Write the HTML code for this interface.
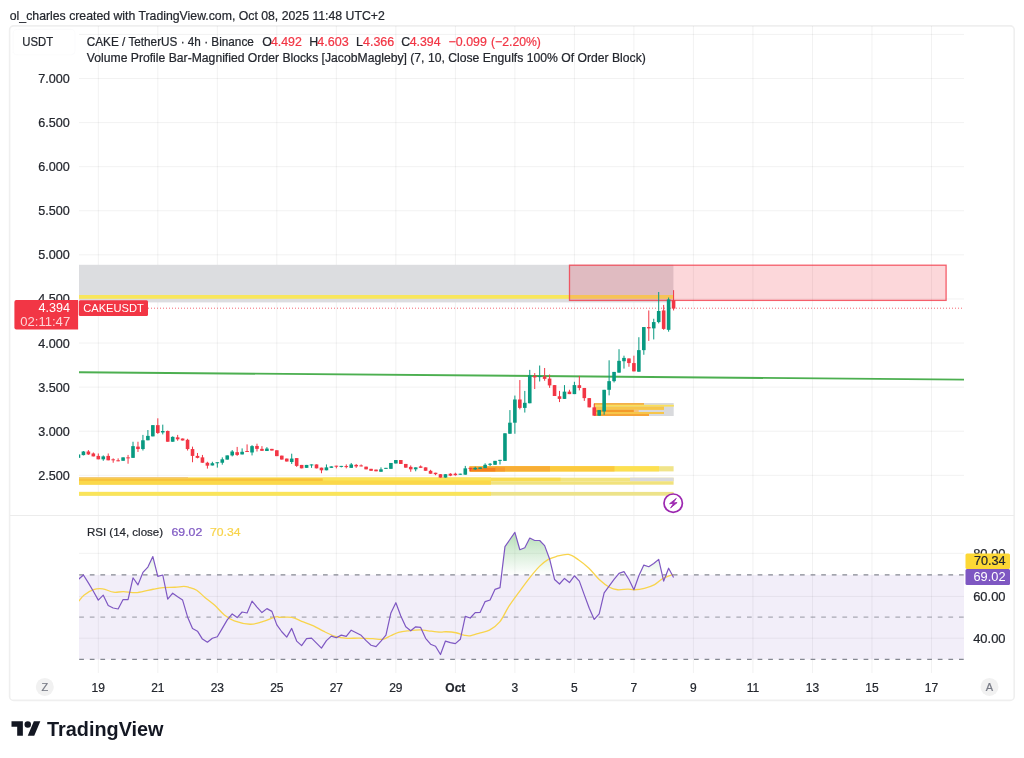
<!DOCTYPE html>
<html><head><meta charset="utf-8"><title>CAKE/USDT chart</title>
<style>html,body{margin:0;padding:0;background:#fff;width:1024px;height:758px;overflow:hidden}svg{display:block;font-family:"Liberation Sans",sans-serif;will-change:transform}</style>
</head><body>
<svg width="1024" height="758" viewBox="0 0 1024 758"><rect x="9.6" y="25.9" width="1004.6" height="674.5" rx="4" fill="#fff" stroke="#efefef" stroke-width="1.6"/>
<rect x="97.80" y="26" width="1" height="647" fill="#000" fill-opacity="0.055"/>
<rect x="157.31" y="26" width="1" height="647" fill="#000" fill-opacity="0.055"/>
<rect x="216.82" y="26" width="1" height="647" fill="#000" fill-opacity="0.055"/>
<rect x="276.34" y="26" width="1" height="647" fill="#000" fill-opacity="0.055"/>
<rect x="335.85" y="26" width="1" height="647" fill="#000" fill-opacity="0.055"/>
<rect x="395.36" y="26" width="1" height="647" fill="#000" fill-opacity="0.055"/>
<rect x="454.87" y="26" width="1" height="647" fill="#000" fill-opacity="0.055"/>
<rect x="514.38" y="26" width="1" height="647" fill="#000" fill-opacity="0.055"/>
<rect x="573.90" y="26" width="1" height="647" fill="#000" fill-opacity="0.055"/>
<rect x="633.41" y="26" width="1" height="647" fill="#000" fill-opacity="0.055"/>
<rect x="692.92" y="26" width="1" height="647" fill="#000" fill-opacity="0.055"/>
<rect x="752.43" y="26" width="1" height="647" fill="#000" fill-opacity="0.055"/>
<rect x="811.94" y="26" width="1" height="647" fill="#000" fill-opacity="0.055"/>
<rect x="871.46" y="26" width="1" height="647" fill="#000" fill-opacity="0.055"/>
<rect x="930.97" y="26" width="1" height="647" fill="#000" fill-opacity="0.055"/>
<rect x="79" y="33.90" width="885" height="1" fill="#000" fill-opacity="0.055"/>
<rect x="79" y="77.99" width="885" height="1" fill="#000" fill-opacity="0.055"/>
<rect x="79" y="122.08" width="885" height="1" fill="#000" fill-opacity="0.055"/>
<rect x="79" y="166.17" width="885" height="1" fill="#000" fill-opacity="0.055"/>
<rect x="79" y="210.26" width="885" height="1" fill="#000" fill-opacity="0.055"/>
<rect x="79" y="254.35" width="885" height="1" fill="#000" fill-opacity="0.055"/>
<rect x="79" y="298.44" width="885" height="1" fill="#000" fill-opacity="0.055"/>
<rect x="79" y="342.53" width="885" height="1" fill="#000" fill-opacity="0.055"/>
<rect x="79" y="386.62" width="885" height="1" fill="#000" fill-opacity="0.055"/>
<rect x="79" y="430.71" width="885" height="1" fill="#000" fill-opacity="0.055"/>
<rect x="79" y="474.80" width="885" height="1" fill="#000" fill-opacity="0.055"/>
<rect x="10" y="515" width="1004" height="1" fill="#ececec"/>
<rect x="79" y="574.9" width="885" height="84.5" fill="#7e57c2" fill-opacity="0.1"/>
<rect x="79" y="552.8" width="885" height="1" fill="#000" fill-opacity="0.055"/>
<rect x="79" y="595.9" width="885" height="1" fill="#000" fill-opacity="0.055"/>
<rect x="79" y="637.7" width="885" height="1" fill="#000" fill-opacity="0.055"/>
<line x1="79.2" y1="574.9" x2="964" y2="574.9" stroke="#787b86" stroke-opacity="0.9" stroke-width="1.2" stroke-dasharray="4.7 5.9"/>
<line x1="79.2" y1="617.1" x2="964" y2="617.1" stroke="#787b86" stroke-opacity="0.6" stroke-width="1.2" stroke-dasharray="4.7 5.9"/>
<line x1="79.2" y1="659.4" x2="964" y2="659.4" stroke="#787b86" stroke-opacity="0.9" stroke-width="1.2" stroke-dasharray="4.7 5.9"/>
<rect x="79" y="264.8" width="594.4" height="37.6" fill="#dcdde0"/>
<rect x="79" y="295" width="594.4" height="3.8" fill="#f8e65c"/>
<rect x="569.5" y="265.2" width="376.6" height="35.2" fill="#f23645" fill-opacity="0.2" stroke="#f23645" stroke-opacity="0.78" stroke-width="1.3"/>
<rect x="79" y="477.7" width="594.6" height="3.6" fill="#f2e480"/>
<rect x="79" y="477.7" width="481.5" height="3.6" fill="#f9dc52"/>
<rect x="630" y="477.7" width="43.6" height="3.6" fill="#d9d9dc"/>
<rect x="79" y="481.3" width="594.6" height="3.4" fill="#f1e27c"/>
<rect x="79" y="477.7" width="412" height="7" fill="#fbd84a"/>
<rect x="322.7" y="477.7" width="168.3" height="2.8" fill="#fae35a"/>
<rect x="79" y="478.6" width="243.7" height="2.3" fill="#f8c23e"/>
<rect x="79" y="477.1" width="109" height="1.2" fill="#f2c878"/>
<rect x="79" y="491.9" width="594.6" height="3.8" fill="#ede38a"/>
<rect x="79" y="491.9" width="412" height="3.8" fill="#fae45a"/>
<rect x="469.7" y="466.2" width="203.9" height="5.2" fill="#f0e48a"/>
<rect x="469.7" y="466.2" width="189.3" height="5.2" fill="#fde050"/>
<rect x="469.7" y="466.2" width="144.8" height="5.2" fill="#fcc93e"/>
<rect x="469.7" y="466.2" width="80.3" height="5.2" fill="#f8ad36"/>
<rect x="469.7" y="467.4" width="35.3" height="4" fill="#f79a2e"/>
<rect x="469.7" y="467.4" width="25.6" height="4" fill="#f57f1f"/>
<rect x="469.7" y="466.2" width="25.6" height="1.3" fill="#f9b84a"/>
<rect x="594" y="403" width="79.7" height="13" fill="#d9dadd"/>
<rect x="594" y="403" width="50" height="2" fill="#f3b04a"/>
<rect x="594" y="404.8" width="79.9" height="1.8" fill="#f9e05a"/>
<rect x="594" y="406.6" width="70" height="3.3" fill="#f7c64a"/>
<rect x="594" y="409.8" width="44.7" height="2.2" fill="#f5c27a"/>
<rect x="594" y="409.8" width="39.8" height="2.2" fill="#f39a2a"/>
<rect x="594" y="412" width="70" height="2" fill="#f7c64a"/>
<rect x="594" y="414" width="55" height="2" fill="#f5a53a"/>
<line x1="79" y1="372.2" x2="964" y2="379.6" stroke="#4caf50" stroke-width="1.9"/>
<line x1="148" y1="308.2" x2="964" y2="308.2" stroke="#f23645" stroke-opacity="0.75" stroke-width="1" stroke-dasharray="1 2"/>
<clipPath id="cmain"><rect x="79" y="26" width="885" height="489"/></clipPath>
<g clip-path="url(#cmain)"><rect x="77.96" y="454.43" width="1" height="3.42" fill="#089981"/>
<rect x="76.66" y="454.43" width="3.6" height="3.42" fill="#089981"/>
<rect x="82.92" y="451.02" width="1" height="4.39" fill="#089981"/>
<rect x="81.62" y="451.50" width="3.6" height="3.61" fill="#089981"/>
<rect x="87.88" y="450.04" width="1" height="4.88" fill="#f23645"/>
<rect x="86.58" y="451.50" width="3.6" height="2.93" fill="#f23645"/>
<rect x="92.84" y="452.48" width="1" height="3.91" fill="#f23645"/>
<rect x="91.54" y="453.46" width="3.6" height="2.93" fill="#f23645"/>
<rect x="97.80" y="453.46" width="1" height="5.86" fill="#f23645"/>
<rect x="96.50" y="455.90" width="3.6" height="3.42" fill="#f23645"/>
<rect x="102.76" y="455.41" width="1" height="5.37" fill="#089981"/>
<rect x="101.46" y="456.39" width="3.6" height="2.93" fill="#089981"/>
<rect x="107.72" y="453.46" width="1" height="6.84" fill="#f23645"/>
<rect x="106.42" y="455.90" width="3.6" height="4.39" fill="#f23645"/>
<rect x="112.68" y="458.34" width="1" height="4.39" fill="#f23645"/>
<rect x="111.38" y="459.32" width="3.6" height="1.00" fill="#f23645"/>
<rect x="117.63" y="458.34" width="1" height="2.93" fill="#f23645"/>
<rect x="116.33" y="460.29" width="3.6" height="1.00" fill="#f23645"/>
<rect x="122.59" y="457.36" width="1" height="3.42" fill="#089981"/>
<rect x="121.29" y="457.36" width="3.6" height="3.42" fill="#089981"/>
<rect x="127.55" y="454.92" width="1" height="8.79" fill="#f23645"/>
<rect x="126.25" y="457.36" width="3.6" height="1.00" fill="#f23645"/>
<rect x="132.51" y="441.74" width="1" height="16.11" fill="#089981"/>
<rect x="131.21" y="446.13" width="3.6" height="11.72" fill="#089981"/>
<rect x="137.47" y="441.74" width="1" height="10.25" fill="#f23645"/>
<rect x="136.17" y="446.62" width="3.6" height="2.44" fill="#f23645"/>
<rect x="142.43" y="434.90" width="1" height="15.62" fill="#089981"/>
<rect x="141.13" y="440.27" width="3.6" height="8.79" fill="#089981"/>
<rect x="147.39" y="430.02" width="1" height="10.25" fill="#089981"/>
<rect x="146.09" y="435.88" width="3.6" height="4.39" fill="#089981"/>
<rect x="152.35" y="425.14" width="1" height="11.23" fill="#089981"/>
<rect x="151.05" y="425.14" width="3.6" height="11.23" fill="#089981"/>
<rect x="157.31" y="418.30" width="1" height="15.62" fill="#f23645"/>
<rect x="156.01" y="425.14" width="3.6" height="7.81" fill="#f23645"/>
<rect x="162.27" y="424.65" width="1" height="9.77" fill="#089981"/>
<rect x="160.97" y="431.00" width="3.6" height="1.46" fill="#089981"/>
<rect x="167.23" y="430.51" width="1" height="11.23" fill="#f23645"/>
<rect x="165.93" y="431.00" width="3.6" height="10.74" fill="#f23645"/>
<rect x="172.19" y="436.37" width="1" height="5.37" fill="#089981"/>
<rect x="170.89" y="436.86" width="3.6" height="4.88" fill="#089981"/>
<rect x="177.15" y="434.90" width="1" height="5.86" fill="#f23645"/>
<rect x="175.85" y="437.34" width="3.6" height="1.95" fill="#f23645"/>
<rect x="182.11" y="438.52" width="1" height="1.95" fill="#f23645"/>
<rect x="180.81" y="438.52" width="3.6" height="1.95" fill="#f23645"/>
<rect x="187.06" y="438.81" width="1" height="11.72" fill="#f23645"/>
<rect x="185.76" y="439.79" width="3.6" height="9.28" fill="#f23645"/>
<rect x="192.02" y="446.62" width="1" height="15.62" fill="#f23645"/>
<rect x="190.72" y="449.06" width="3.6" height="6.84" fill="#f23645"/>
<rect x="196.98" y="452.97" width="1" height="5.37" fill="#f23645"/>
<rect x="195.68" y="455.90" width="3.6" height="1.95" fill="#f23645"/>
<rect x="201.94" y="454.92" width="1" height="7.81" fill="#f23645"/>
<rect x="200.64" y="457.36" width="3.6" height="5.37" fill="#f23645"/>
<rect x="206.90" y="461.76" width="1" height="6.84" fill="#f23645"/>
<rect x="205.60" y="462.73" width="3.6" height="2.93" fill="#f23645"/>
<rect x="211.86" y="461.76" width="1" height="3.71" fill="#089981"/>
<rect x="210.56" y="463.22" width="3.6" height="2.25" fill="#089981"/>
<rect x="216.82" y="462.25" width="1" height="5.37" fill="#089981"/>
<rect x="215.52" y="462.25" width="3.6" height="1.00" fill="#089981"/>
<rect x="221.78" y="457.36" width="1" height="7.32" fill="#089981"/>
<rect x="220.48" y="459.32" width="3.6" height="3.42" fill="#089981"/>
<rect x="226.74" y="455.41" width="1" height="4.20" fill="#089981"/>
<rect x="225.44" y="455.41" width="3.6" height="4.20" fill="#089981"/>
<rect x="231.70" y="450.04" width="1" height="6.35" fill="#089981"/>
<rect x="230.40" y="451.50" width="3.6" height="3.91" fill="#089981"/>
<rect x="236.66" y="446.91" width="1" height="8.98" fill="#f23645"/>
<rect x="235.36" y="452.19" width="3.6" height="2.73" fill="#f23645"/>
<rect x="241.62" y="448.38" width="1" height="6.05" fill="#089981"/>
<rect x="240.32" y="451.80" width="3.6" height="2.64" fill="#089981"/>
<rect x="246.58" y="444.38" width="1" height="7.62" fill="#f23645"/>
<rect x="245.28" y="451.02" width="3.6" height="1.00" fill="#f23645"/>
<rect x="251.54" y="445.16" width="1" height="10.25" fill="#089981"/>
<rect x="250.24" y="446.13" width="3.6" height="6.35" fill="#089981"/>
<rect x="256.49" y="443.69" width="1" height="7.81" fill="#f23645"/>
<rect x="255.19" y="445.94" width="3.6" height="2.93" fill="#f23645"/>
<rect x="261.45" y="446.13" width="1" height="4.69" fill="#f23645"/>
<rect x="260.15" y="448.87" width="3.6" height="1.95" fill="#f23645"/>
<rect x="266.41" y="447.11" width="1" height="3.91" fill="#089981"/>
<rect x="265.11" y="448.57" width="3.6" height="2.44" fill="#089981"/>
<rect x="271.37" y="448.87" width="1" height="1.66" fill="#f23645"/>
<rect x="270.07" y="448.87" width="3.6" height="1.66" fill="#f23645"/>
<rect x="276.33" y="450.27" width="1" height="5.86" fill="#f23645"/>
<rect x="275.03" y="450.27" width="3.6" height="5.86" fill="#f23645"/>
<rect x="281.29" y="455.64" width="1" height="3.91" fill="#f23645"/>
<rect x="279.99" y="455.64" width="3.6" height="3.91" fill="#f23645"/>
<rect x="286.25" y="458.57" width="1" height="2.93" fill="#f23645"/>
<rect x="284.95" y="458.57" width="3.6" height="2.93" fill="#f23645"/>
<rect x="291.21" y="453.69" width="1" height="10.25" fill="#089981"/>
<rect x="289.91" y="458.57" width="3.6" height="3.42" fill="#089981"/>
<rect x="296.17" y="458.09" width="1" height="8.79" fill="#f23645"/>
<rect x="294.87" y="458.09" width="3.6" height="7.81" fill="#f23645"/>
<rect x="301.13" y="464.92" width="1" height="3.42" fill="#f23645"/>
<rect x="299.83" y="464.92" width="3.6" height="3.42" fill="#f23645"/>
<rect x="306.09" y="464.92" width="1" height="2.93" fill="#089981"/>
<rect x="304.79" y="464.92" width="3.6" height="2.93" fill="#089981"/>
<rect x="311.05" y="464.43" width="1" height="3.42" fill="#089981"/>
<rect x="309.75" y="464.43" width="3.6" height="1.00" fill="#089981"/>
<rect x="316.01" y="464.43" width="1" height="3.91" fill="#f23645"/>
<rect x="314.71" y="464.43" width="3.6" height="3.91" fill="#f23645"/>
<rect x="320.97" y="467.66" width="1" height="5.57" fill="#f23645"/>
<rect x="319.67" y="467.66" width="3.6" height="2.64" fill="#f23645"/>
<rect x="325.93" y="464.43" width="1" height="5.86" fill="#089981"/>
<rect x="324.62" y="467.36" width="3.6" height="2.93" fill="#089981"/>
<rect x="330.88" y="466.39" width="1" height="1.46" fill="#089981"/>
<rect x="329.58" y="466.39" width="3.6" height="1.46" fill="#089981"/>
<rect x="335.84" y="465.70" width="1" height="2.64" fill="#f23645"/>
<rect x="334.54" y="465.70" width="3.6" height="1.00" fill="#f23645"/>
<rect x="340.80" y="465.90" width="1" height="1.46" fill="#089981"/>
<rect x="339.50" y="465.90" width="3.6" height="1.00" fill="#089981"/>
<rect x="345.76" y="464.43" width="1" height="3.91" fill="#f23645"/>
<rect x="344.46" y="466.09" width="3.6" height="1.00" fill="#f23645"/>
<rect x="350.72" y="462.97" width="1" height="4.88" fill="#089981"/>
<rect x="349.42" y="464.43" width="3.6" height="3.42" fill="#089981"/>
<rect x="355.68" y="463.95" width="1" height="3.91" fill="#f23645"/>
<rect x="354.38" y="464.92" width="3.6" height="1.46" fill="#f23645"/>
<rect x="360.64" y="464.43" width="1" height="1.95" fill="#f23645"/>
<rect x="359.34" y="465.41" width="3.6" height="1.00" fill="#f23645"/>
<rect x="365.60" y="466.68" width="1" height="2.64" fill="#f23645"/>
<rect x="364.30" y="466.68" width="3.6" height="2.64" fill="#f23645"/>
<rect x="370.56" y="468.83" width="1" height="1.95" fill="#f23645"/>
<rect x="369.26" y="468.83" width="3.6" height="1.95" fill="#f23645"/>
<rect x="375.52" y="469.61" width="1" height="1.66" fill="#f23645"/>
<rect x="374.22" y="469.61" width="3.6" height="1.66" fill="#f23645"/>
<rect x="380.48" y="467.36" width="1" height="4.39" fill="#089981"/>
<rect x="379.18" y="469.32" width="3.6" height="2.44" fill="#089981"/>
<rect x="385.44" y="467.85" width="1" height="0.98" fill="#089981"/>
<rect x="384.14" y="467.85" width="3.6" height="1.00" fill="#089981"/>
<rect x="390.40" y="462.97" width="1" height="5.86" fill="#089981"/>
<rect x="389.10" y="462.97" width="3.6" height="5.86" fill="#089981"/>
<rect x="395.36" y="460.04" width="1" height="3.42" fill="#089981"/>
<rect x="394.06" y="460.04" width="3.6" height="3.42" fill="#089981"/>
<rect x="400.31" y="460.04" width="1" height="3.91" fill="#f23645"/>
<rect x="399.01" y="460.04" width="3.6" height="3.91" fill="#f23645"/>
<rect x="405.27" y="463.95" width="1" height="3.71" fill="#f23645"/>
<rect x="403.97" y="463.95" width="3.6" height="3.71" fill="#f23645"/>
<rect x="410.23" y="465.41" width="1" height="6.35" fill="#f23645"/>
<rect x="408.93" y="466.88" width="3.6" height="2.44" fill="#f23645"/>
<rect x="415.19" y="467.36" width="1" height="3.91" fill="#089981"/>
<rect x="413.89" y="467.36" width="3.6" height="1.95" fill="#089981"/>
<rect x="420.15" y="465.41" width="1" height="2.44" fill="#f23645"/>
<rect x="418.85" y="466.39" width="3.6" height="1.46" fill="#f23645"/>
<rect x="425.11" y="467.36" width="1" height="3.42" fill="#f23645"/>
<rect x="423.81" y="467.36" width="3.6" height="3.42" fill="#f23645"/>
<rect x="430.07" y="469.80" width="1" height="3.91" fill="#f23645"/>
<rect x="428.77" y="470.78" width="3.6" height="2.93" fill="#f23645"/>
<rect x="435.03" y="472.73" width="1" height="2.44" fill="#f23645"/>
<rect x="433.73" y="472.73" width="3.6" height="1.46" fill="#f23645"/>
<rect x="439.99" y="474.20" width="1" height="3.42" fill="#f23645"/>
<rect x="438.69" y="474.20" width="3.6" height="3.42" fill="#f23645"/>
<rect x="444.95" y="474.20" width="1" height="3.42" fill="#089981"/>
<rect x="443.65" y="474.20" width="3.6" height="3.42" fill="#089981"/>
<rect x="449.91" y="473.22" width="1" height="2.93" fill="#f23645"/>
<rect x="448.61" y="473.71" width="3.6" height="1.95" fill="#f23645"/>
<rect x="454.87" y="472.73" width="1" height="2.93" fill="#f23645"/>
<rect x="453.57" y="473.71" width="3.6" height="1.46" fill="#f23645"/>
<rect x="459.83" y="473.71" width="1" height="0.98" fill="#089981"/>
<rect x="458.53" y="473.71" width="3.6" height="1.00" fill="#089981"/>
<rect x="464.79" y="465.90" width="1" height="8.79" fill="#089981"/>
<rect x="463.49" y="468.34" width="3.6" height="6.35" fill="#089981"/>
<rect x="469.74" y="467.85" width="1" height="2.93" fill="#f23645"/>
<rect x="468.44" y="467.85" width="3.6" height="1.00" fill="#f23645"/>
<rect x="474.70" y="466.72" width="1" height="3.28" fill="#089981"/>
<rect x="473.40" y="467.89" width="3.6" height="1.41" fill="#089981"/>
<rect x="479.66" y="467.40" width="1" height="1.45" fill="#089981"/>
<rect x="478.36" y="467.40" width="3.6" height="1.45" fill="#089981"/>
<rect x="484.62" y="463.34" width="1" height="4.79" fill="#089981"/>
<rect x="483.32" y="464.79" width="3.6" height="3.34" fill="#089981"/>
<rect x="489.58" y="463.05" width="1" height="2.90" fill="#089981"/>
<rect x="488.28" y="463.77" width="3.6" height="1.02" fill="#089981"/>
<rect x="494.54" y="460.87" width="1" height="3.92" fill="#089981"/>
<rect x="493.24" y="460.87" width="3.6" height="3.92" fill="#089981"/>
<rect x="499.50" y="459.85" width="1" height="4.64" fill="#089981"/>
<rect x="498.20" y="459.85" width="3.6" height="1.02" fill="#089981"/>
<rect x="504.46" y="433.29" width="1" height="27.58" fill="#089981"/>
<rect x="503.16" y="433.29" width="3.6" height="27.58" fill="#089981"/>
<rect x="509.42" y="410.07" width="1" height="23.66" fill="#089981"/>
<rect x="508.12" y="422.70" width="3.6" height="11.03" fill="#089981"/>
<rect x="514.38" y="395.56" width="1" height="38.17" fill="#089981"/>
<rect x="513.08" y="399.48" width="3.6" height="23.22" fill="#089981"/>
<rect x="519.34" y="380.03" width="1" height="29.32" fill="#f23645"/>
<rect x="518.04" y="399.48" width="3.6" height="8.42" fill="#f23645"/>
<rect x="524.30" y="390.91" width="1" height="21.63" fill="#089981"/>
<rect x="523.00" y="402.82" width="3.6" height="5.08" fill="#089981"/>
<rect x="529.26" y="369.87" width="1" height="33.38" fill="#089981"/>
<rect x="527.96" y="375.24" width="3.6" height="28.01" fill="#089981"/>
<rect x="534.22" y="373.06" width="1" height="15.97" fill="#f23645"/>
<rect x="532.92" y="375.97" width="3.6" height="1.45" fill="#f23645"/>
<rect x="539.17" y="365.52" width="1" height="15.97" fill="#089981"/>
<rect x="537.87" y="375.97" width="3.6" height="1.16" fill="#089981"/>
<rect x="544.13" y="367.98" width="1" height="12.77" fill="#f23645"/>
<rect x="542.83" y="376.40" width="3.6" height="2.47" fill="#f23645"/>
<rect x="549.09" y="374.51" width="1" height="13.35" fill="#f23645"/>
<rect x="547.79" y="378.58" width="3.6" height="6.82" fill="#f23645"/>
<rect x="554.05" y="385.11" width="1" height="10.89" fill="#f23645"/>
<rect x="552.75" y="385.11" width="3.6" height="10.89" fill="#f23645"/>
<rect x="559.01" y="390.91" width="1" height="11.18" fill="#f23645"/>
<rect x="557.71" y="396.28" width="3.6" height="2.61" fill="#f23645"/>
<rect x="563.97" y="385.11" width="1" height="13.79" fill="#089981"/>
<rect x="562.67" y="391.64" width="3.6" height="7.26" fill="#089981"/>
<rect x="568.93" y="389.75" width="1" height="4.35" fill="#f23645"/>
<rect x="567.63" y="391.64" width="3.6" height="2.47" fill="#f23645"/>
<rect x="573.89" y="381.77" width="1" height="12.34" fill="#089981"/>
<rect x="572.59" y="385.11" width="3.6" height="9.00" fill="#089981"/>
<rect x="578.85" y="375.98" width="1" height="14.40" fill="#f23645"/>
<rect x="577.55" y="385.20" width="3.6" height="2.77" fill="#f23645"/>
<rect x="583.81" y="387.97" width="1" height="12.92" fill="#f23645"/>
<rect x="582.51" y="387.97" width="3.6" height="10.15" fill="#f23645"/>
<rect x="588.77" y="398.12" width="1" height="9.23" fill="#f23645"/>
<rect x="587.47" y="398.12" width="3.6" height="9.23" fill="#f23645"/>
<rect x="593.73" y="403.66" width="1" height="12.00" fill="#f23645"/>
<rect x="592.43" y="407.35" width="3.6" height="8.31" fill="#f23645"/>
<rect x="598.69" y="410.12" width="1" height="5.54" fill="#089981"/>
<rect x="597.39" y="410.12" width="3.6" height="5.54" fill="#089981"/>
<rect x="603.65" y="389.82" width="1" height="24.92" fill="#089981"/>
<rect x="602.35" y="389.82" width="3.6" height="21.59" fill="#089981"/>
<rect x="608.61" y="360.29" width="1" height="35.07" fill="#089981"/>
<rect x="607.31" y="381.14" width="3.6" height="8.67" fill="#089981"/>
<rect x="613.56" y="371.92" width="1" height="10.52" fill="#089981"/>
<rect x="612.26" y="371.92" width="3.6" height="9.23" fill="#089981"/>
<rect x="618.52" y="349.21" width="1" height="23.44" fill="#089981"/>
<rect x="617.22" y="360.84" width="3.6" height="11.81" fill="#089981"/>
<rect x="623.48" y="355.67" width="1" height="12.92" fill="#089981"/>
<rect x="622.18" y="357.89" width="3.6" height="3.32" fill="#089981"/>
<rect x="628.44" y="358.44" width="1" height="8.31" fill="#f23645"/>
<rect x="627.14" y="358.44" width="3.6" height="4.61" fill="#f23645"/>
<rect x="633.40" y="355.67" width="1" height="15.69" fill="#f23645"/>
<rect x="632.10" y="363.06" width="3.6" height="8.31" fill="#f23645"/>
<rect x="638.36" y="337.22" width="1" height="34.51" fill="#089981"/>
<rect x="637.06" y="350.14" width="3.6" height="21.59" fill="#089981"/>
<rect x="643.32" y="327.07" width="1" height="27.69" fill="#089981"/>
<rect x="642.02" y="327.07" width="3.6" height="23.07" fill="#089981"/>
<rect x="648.28" y="310.45" width="1" height="30.45" fill="#f23645"/>
<rect x="646.98" y="327.07" width="3.6" height="1.29" fill="#f23645"/>
<rect x="653.24" y="318.76" width="1" height="20.67" fill="#089981"/>
<rect x="651.94" y="322.08" width="3.6" height="6.28" fill="#089981"/>
<rect x="658.20" y="292.00" width="1" height="31.38" fill="#089981"/>
<rect x="656.90" y="311.01" width="3.6" height="11.07" fill="#089981"/>
<rect x="663.16" y="304.92" width="1" height="24.92" fill="#f23645"/>
<rect x="661.86" y="310.45" width="3.6" height="18.46" fill="#f23645"/>
<rect x="668.12" y="297.53" width="1" height="34.15" fill="#089981"/>
<rect x="666.82" y="299.38" width="3.6" height="30.45" fill="#089981"/>
<rect x="673.08" y="290.15" width="1" height="20.30" fill="#f23645"/>
<rect x="671.78" y="300.30" width="3.6" height="8.31" fill="#f23645"/></g>
<circle cx="673.2" cy="503.2" r="9.2" fill="#fff" stroke="#9c27b0" stroke-width="1.7"/>
<path d="M676.3,498.4 L669.6,503.7 L673.6,503.3 L670.6,507.9 L677.1,502.6 L673.1,502.9 Z" fill="#9c27b0" stroke="#9c27b0" stroke-width="0.9" stroke-linejoin="round"/>
<defs><linearGradient id="gf" gradientUnits="userSpaceOnUse" x1="0" y1="512" x2="0" y2="575.2"><stop offset="0" stop-color="#4caf50" stop-opacity="0.6"/><stop offset="1" stop-color="#4caf50" stop-opacity="0"/></linearGradient><clipPath id="c70"><rect x="79" y="520" width="885" height="54.89999999999998"/></clipPath></defs>
<path d="M78.46,579.35 L83.42,575.00 L88.38,582.91 L93.34,591.22 L98.30,600.12 L103.26,595.17 L108.22,605.46 L113.18,608.03 L118.13,609.02 L123.09,599.53 L128.05,599.53 L133.01,577.76 L137.97,584.89 L142.93,572.42 L147.89,567.08 L152.85,556.60 L157.81,576.38 L162.77,575.00 L167.73,599.13 L172.69,593.19 L177.65,596.76 L182.61,600.12 L187.56,616.93 L192.52,628.41 L197.48,631.18 L202.44,639.09 L207.40,642.26 L212.36,638.30 L217.32,636.72 L222.28,628.41 L227.24,619.90 L232.20,613.97 L237.16,617.53 L242.12,611.99 L247.08,612.98 L252.04,601.11 L256.99,607.04 L261.95,612.58 L266.91,608.63 L271.87,611.39 L276.83,624.85 L281.79,631.77 L286.75,637.11 L291.71,628.41 L296.67,641.07 L301.63,645.62 L306.59,638.69 L311.55,638.10 L316.51,643.05 L321.47,648.19 L326.43,640.67 L331.38,636.12 L336.34,637.71 L341.30,635.13 L346.26,636.32 L351.22,630.19 L356.18,632.76 L361.14,635.33 L366.10,640.67 L371.06,645.22 L376.02,646.61 L380.98,641.07 L385.94,635.13 L390.90,612.98 L395.86,602.69 L400.81,615.94 L405.77,626.82 L410.73,630.78 L415.69,626.82 L420.65,627.42 L425.61,638.30 L430.57,644.23 L435.53,646.21 L440.49,654.52 L445.45,641.07 L450.41,642.65 L455.37,643.64 L460.33,639.29 L465.29,616.34 L470.24,618.03 L475.20,612.70 L480.16,612.29 L485.12,601.62 L490.08,599.98 L495.04,589.32 L500.00,587.68 L504.96,546.66 L509.92,539.48 L514.88,532.31 L519.84,549.74 L524.80,547.69 L529.76,538.05 L534.72,540.51 L539.67,540.51 L544.63,545.64 L549.59,558.97 L554.55,579.47 L559.51,583.99 L564.47,578.45 L569.43,582.55 L574.39,575.78 L579.35,581.12 L584.31,594.86 L589.27,608.19 L594.23,619.47 L599.19,613.93 L604.15,592.81 L609.11,586.04 L614.06,579.47 L619.02,573.32 L623.98,571.68 L628.94,579.47 L633.90,589.73 L638.86,575.78 L643.82,565.12 L648.78,566.76 L653.74,563.48 L658.70,559.38 L663.66,581.12 L668.62,568.20 L673.58,577.42 L673.58,574.9 L78.46,574.9 Z" fill="url(#gf)" clip-path="url(#c70)"/>
<clipPath id="cp"><rect x="79" y="516" width="885" height="157"/></clipPath>
<path d="M78.97,601.11 C79.79,600.12 81.51,597.09 83.91,595.17 C86.32,593.26 90.28,590.69 93.41,589.63 C96.54,588.58 99.34,588.41 102.71,588.84 C106.07,589.27 110.12,591.74 113.59,592.21 C117.05,592.67 119.52,591.55 123.48,591.61 C127.43,591.68 132.38,593.00 137.33,592.60 C142.27,592.21 148.87,590.06 153.15,589.24 C157.44,588.41 159.42,587.99 163.04,587.66 C166.67,587.33 171.45,587.46 174.91,587.26 C178.37,587.06 181.51,586.47 183.81,586.47 C186.12,586.47 186.62,586.63 188.76,587.26 C190.90,587.89 194.03,588.58 196.67,590.23 C199.31,591.88 201.62,594.68 204.59,597.15 C207.55,599.62 211.18,602.10 214.48,605.06 C217.77,608.03 221.07,612.32 224.37,614.96 C227.67,617.59 229.97,619.34 234.26,620.89 C238.55,622.44 245.47,624.09 250.09,624.25 C254.70,624.42 257.67,623.10 261.95,621.88 C266.24,620.66 272.81,617.69 275.80,616.93 C278.79,616.18 277.23,617.26 279.89,617.33 C282.55,617.40 288.13,616.67 291.76,617.33 C295.39,617.99 298.03,619.87 301.65,621.29 C305.28,622.70 309.89,624.19 313.52,625.84 C317.15,627.48 319.79,629.43 323.41,631.18 C327.04,632.92 331.33,635.13 335.28,636.32 C339.24,637.51 343.19,638.00 347.15,638.30 C351.11,638.60 354.73,638.03 359.02,638.10 C363.31,638.17 368.91,638.50 372.87,638.69 C376.82,638.89 379.79,639.78 382.76,639.29 C385.73,638.79 388.03,636.88 390.67,635.73 C393.31,634.57 395.62,633.19 398.59,632.36 C401.55,631.54 404.85,631.21 408.48,630.78 C412.10,630.35 417.05,629.79 420.35,629.79 C423.64,629.79 424.96,630.39 428.26,630.78 C431.56,631.18 437.16,632.00 440.13,632.17 C443.10,632.33 443.43,631.67 446.06,631.77 C448.70,631.87 452.99,632.20 455.95,632.76 C458.92,633.32 461.53,634.61 463.87,635.13 C466.21,635.65 467.27,636.26 470.00,635.87 C472.73,635.48 477.01,633.75 480.25,632.80 C483.50,631.84 486.24,631.94 489.48,630.13 C492.73,628.32 496.49,625.93 499.74,621.93 C502.98,617.93 505.72,611.16 508.97,606.14 C512.21,601.11 515.80,596.46 519.22,591.78 C522.64,587.10 526.06,582.31 529.47,578.04 C532.89,573.77 536.65,569.22 539.73,566.14 C542.81,563.07 545.20,561.19 547.93,559.58 C550.67,557.98 552.72,557.36 556.14,556.51 C559.55,555.65 564.68,553.87 568.44,554.45 C572.20,555.04 575.28,557.70 578.70,559.99 C582.11,562.28 585.53,564.95 588.95,568.20 C592.37,571.44 595.79,576.30 599.20,579.47 C602.62,582.65 606.38,585.56 609.46,587.27 C612.53,588.98 614.59,589.42 617.66,589.73 C620.74,590.04 625.18,589.11 627.92,589.11 C630.65,589.11 631.33,589.87 634.07,589.73 C636.80,589.59 640.91,589.15 644.32,588.29 C647.74,587.44 651.50,586.24 654.58,584.60 C657.65,582.96 659.70,580.16 662.78,578.45 C665.86,576.74 671.33,575.03 673.04,574.35" fill="none" stroke="#f8d44c" stroke-width="1.3" clip-path="url(#cp)"/>
<path d="M78.46,579.35 L83.42,575.00 L88.38,582.91 L93.34,591.22 L98.30,600.12 L103.26,595.17 L108.22,605.46 L113.18,608.03 L118.13,609.02 L123.09,599.53 L128.05,599.53 L133.01,577.76 L137.97,584.89 L142.93,572.42 L147.89,567.08 L152.85,556.60 L157.81,576.38 L162.77,575.00 L167.73,599.13 L172.69,593.19 L177.65,596.76 L182.61,600.12 L187.56,616.93 L192.52,628.41 L197.48,631.18 L202.44,639.09 L207.40,642.26 L212.36,638.30 L217.32,636.72 L222.28,628.41 L227.24,619.90 L232.20,613.97 L237.16,617.53 L242.12,611.99 L247.08,612.98 L252.04,601.11 L256.99,607.04 L261.95,612.58 L266.91,608.63 L271.87,611.39 L276.83,624.85 L281.79,631.77 L286.75,637.11 L291.71,628.41 L296.67,641.07 L301.63,645.62 L306.59,638.69 L311.55,638.10 L316.51,643.05 L321.47,648.19 L326.43,640.67 L331.38,636.12 L336.34,637.71 L341.30,635.13 L346.26,636.32 L351.22,630.19 L356.18,632.76 L361.14,635.33 L366.10,640.67 L371.06,645.22 L376.02,646.61 L380.98,641.07 L385.94,635.13 L390.90,612.98 L395.86,602.69 L400.81,615.94 L405.77,626.82 L410.73,630.78 L415.69,626.82 L420.65,627.42 L425.61,638.30 L430.57,644.23 L435.53,646.21 L440.49,654.52 L445.45,641.07 L450.41,642.65 L455.37,643.64 L460.33,639.29 L465.29,616.34 L470.24,618.03 L475.20,612.70 L480.16,612.29 L485.12,601.62 L490.08,599.98 L495.04,589.32 L500.00,587.68 L504.96,546.66 L509.92,539.48 L514.88,532.31 L519.84,549.74 L524.80,547.69 L529.76,538.05 L534.72,540.51 L539.67,540.51 L544.63,545.64 L549.59,558.97 L554.55,579.47 L559.51,583.99 L564.47,578.45 L569.43,582.55 L574.39,575.78 L579.35,581.12 L584.31,594.86 L589.27,608.19 L594.23,619.47 L599.19,613.93 L604.15,592.81 L609.11,586.04 L614.06,579.47 L619.02,573.32 L623.98,571.68 L628.94,579.47 L633.90,589.73 L638.86,575.78 L643.82,565.12 L648.78,566.76 L653.74,563.48 L658.70,559.38 L663.66,581.12 L668.62,568.20 L673.58,577.42" fill="none" stroke="#7e57c2" stroke-width="1.2" stroke-linejoin="round" clip-path="url(#cp)"/>
<g font-family="Liberation Sans, sans-serif" stroke-width="0.22">
<text x="9.8" y="19.6" font-size="12.4" fill="#24272e" stroke="#24272e" textLength="375" lengthAdjust="spacingAndGlyphs">ol_charles created with TradingView.com, Oct 08, 2025 11:48 UTC+2</text>
<rect x="13.2" y="29.4" width="61.8" height="25.5" rx="4" fill="#fff" stroke="#eceef2"/>
<text x="22.3" y="46" font-size="12.2" fill="#24272e" stroke="#24272e" textLength="30.9" lengthAdjust="spacingAndGlyphs">USDT</text>
<text x="86.8" y="45.6" font-size="12.4" fill="#24272e" stroke="#24272e" textLength="167" lengthAdjust="spacingAndGlyphs">CAKE / TetherUS · 4h · Binance</text>
<text x="262.2" y="45.6" font-size="12.4" fill="#24272e" stroke="#24272e">O</text>
<text x="270.9" y="45.6" font-size="12.4" fill="#f23645" stroke="#f23645" textLength="31" lengthAdjust="spacingAndGlyphs">4.492</text>
<text x="309.2" y="45.6" font-size="12.4" fill="#24272e" stroke="#24272e">H</text>
<text x="317.3" y="45.6" font-size="12.4" fill="#f23645" stroke="#f23645" textLength="31.5" lengthAdjust="spacingAndGlyphs">4.603</text>
<text x="356" y="45.6" font-size="12.4" fill="#24272e" stroke="#24272e">L</text>
<text x="363" y="45.6" font-size="12.4" fill="#f23645" stroke="#f23645" textLength="31.2" lengthAdjust="spacingAndGlyphs">4.366</text>
<text x="401.2" y="45.6" font-size="12.4" fill="#24272e" stroke="#24272e">C</text>
<text x="409.7" y="45.6" font-size="12.4" fill="#f23645" stroke="#f23645" textLength="30.9" lengthAdjust="spacingAndGlyphs">4.394</text>
<text x="448.6" y="45.6" font-size="12.4" fill="#f23645" stroke="#f23645" textLength="38.2" lengthAdjust="spacingAndGlyphs">−0.099</text>
<text x="491" y="45.6" font-size="12.4" fill="#f23645" stroke="#f23645" textLength="49.9" lengthAdjust="spacingAndGlyphs">(−2.20%)</text>
<text x="86.8" y="61.6" font-size="12.4" fill="#24272e" stroke="#24272e" textLength="559" lengthAdjust="spacingAndGlyphs">Volume Profile Bar-Magnified Order Blocks [JacobMagleby] (7, 10, Close Engulfs 100% Of Order Block)</text>
<text x="69.8" y="83.0" font-size="12.6" fill="#24272e" stroke="#24272e" text-anchor="end">7.000</text>
<text x="69.8" y="127.09" font-size="12.6" fill="#24272e" stroke="#24272e" text-anchor="end">6.500</text>
<text x="69.8" y="171.18" font-size="12.6" fill="#24272e" stroke="#24272e" text-anchor="end">6.000</text>
<text x="69.8" y="215.27" font-size="12.6" fill="#24272e" stroke="#24272e" text-anchor="end">5.500</text>
<text x="69.8" y="259.36" font-size="12.6" fill="#24272e" stroke="#24272e" text-anchor="end">5.000</text>
<text x="69.8" y="303.45" font-size="12.6" fill="#24272e" stroke="#24272e" text-anchor="end">4.500</text>
<text x="69.8" y="347.54" font-size="12.6" fill="#24272e" stroke="#24272e" text-anchor="end">4.000</text>
<text x="69.8" y="391.63" font-size="12.6" fill="#24272e" stroke="#24272e" text-anchor="end">3.500</text>
<text x="69.8" y="435.72" font-size="12.6" fill="#24272e" stroke="#24272e" text-anchor="end">3.000</text>
<text x="69.8" y="479.81" font-size="12.6" fill="#24272e" stroke="#24272e" text-anchor="end">2.500</text>
<path d="M16.4,300 H78.1 V329.5 H16.4 Q14.4,329.5 14.4,327.5 V302 Q14.4,300 16.4,300 Z" fill="#f23645"/>
<text x="38.6" y="311.7" font-size="12.2" fill="#fff" textLength="31.5" lengthAdjust="spacingAndGlyphs">4.394</text>
<text x="20.2" y="325.6" font-size="12.2" fill="#fff" textLength="50" lengthAdjust="spacingAndGlyphs" fill-opacity="0.78">02:11:47</text>
<rect x="78.8" y="300.3" width="69.2" height="15.7" rx="1.5" fill="#f23645"/>
<text x="83.2" y="311.7" font-size="11.6" fill="#fff" textLength="60.6" lengthAdjust="spacingAndGlyphs">CAKEUSDT</text>
<text x="86.9" y="535.5" font-size="11.8" fill="#24272e" stroke="#24272e" textLength="76.2" lengthAdjust="spacingAndGlyphs">RSI (14, close)</text>
<text x="171.5" y="535.7" font-size="11.8" fill="#7e57c2" stroke="#7e57c2" textLength="30.8" lengthAdjust="spacingAndGlyphs">69.02</text>
<text x="209.9" y="535.7" font-size="11.8" fill="#f8d44c" stroke="#f8d44c" textLength="30.6" lengthAdjust="spacingAndGlyphs">70.34</text>
<text x="973.2" y="557.5" font-size="12" fill="#24272e" stroke="#24272e" textLength="32.3" lengthAdjust="spacingAndGlyphs">80.00</text>
<rect x="965.5" y="553.4" width="44.5" height="15.6" rx="1.5" fill="#fdd835"/>
<text x="973.9" y="565.1" font-size="12" fill="#24272e" stroke="#24272e" textLength="31.6" lengthAdjust="spacingAndGlyphs">70.34</text>
<rect x="965.5" y="569" width="44.5" height="16" rx="1.5" fill="#7e57c2"/>
<text x="973.5" y="581.4" font-size="12" fill="#fff" textLength="32" lengthAdjust="spacingAndGlyphs">69.02</text>
<text x="973.2" y="601" font-size="12" fill="#24272e" stroke="#24272e" textLength="32.3" lengthAdjust="spacingAndGlyphs">60.00</text>
<text x="973.2" y="643" font-size="12" fill="#24272e" stroke="#24272e" textLength="32.3" lengthAdjust="spacingAndGlyphs">40.00</text>
<text x="98.3" y="691.6" font-size="12" fill="#24272e" stroke="#24272e" text-anchor="middle">19</text>
<text x="157.81" y="691.6" font-size="12" fill="#24272e" stroke="#24272e" text-anchor="middle">21</text>
<text x="217.32" y="691.6" font-size="12" fill="#24272e" stroke="#24272e" text-anchor="middle">23</text>
<text x="276.84" y="691.6" font-size="12" fill="#24272e" stroke="#24272e" text-anchor="middle">25</text>
<text x="336.35" y="691.6" font-size="12" fill="#24272e" stroke="#24272e" text-anchor="middle">27</text>
<text x="395.86" y="691.6" font-size="12" fill="#24272e" stroke="#24272e" text-anchor="middle">29</text>
<text x="455.37" y="691.6" font-size="12" fill="#24272e" stroke="#24272e" text-anchor="middle" font-weight="bold">Oct</text>
<text x="514.88" y="691.6" font-size="12" fill="#24272e" stroke="#24272e" text-anchor="middle">3</text>
<text x="574.4" y="691.6" font-size="12" fill="#24272e" stroke="#24272e" text-anchor="middle">5</text>
<text x="633.91" y="691.6" font-size="12" fill="#24272e" stroke="#24272e" text-anchor="middle">7</text>
<text x="693.42" y="691.6" font-size="12" fill="#24272e" stroke="#24272e" text-anchor="middle">9</text>
<text x="752.93" y="691.6" font-size="12" fill="#24272e" stroke="#24272e" text-anchor="middle">11</text>
<text x="812.44" y="691.6" font-size="12" fill="#24272e" stroke="#24272e" text-anchor="middle">13</text>
<text x="871.96" y="691.6" font-size="12" fill="#24272e" stroke="#24272e" text-anchor="middle">15</text>
<text x="931.47" y="691.6" font-size="12" fill="#24272e" stroke="#24272e" text-anchor="middle">17</text>
<circle cx="44.8" cy="686.9" r="9" fill="#f1f1f1"/>
<text x="44.8" y="691.3" font-size="11" fill="#787b86" stroke="#787b86" text-anchor="middle">Z</text>
<circle cx="989.5" cy="686.9" r="9" fill="#f1f1f1"/>
<text x="989.5" y="691.3" font-size="11" fill="#787b86" stroke="#787b86" text-anchor="middle">A</text>
</g>
<g transform="translate(11.5,717.9) scale(0.812)" fill="#131722"><path d="M14 22H7V11H0V4h14v18zM28 22h-8l7.5-18h8L28 22z"/><circle cx="20" cy="8" r="4"/></g>
<text x="47" y="736" font-family="Liberation Sans, sans-serif" font-size="20.8" font-weight="bold" fill="#131722" textLength="116.5" lengthAdjust="spacingAndGlyphs">TradingView</text></svg>
</body></html>
